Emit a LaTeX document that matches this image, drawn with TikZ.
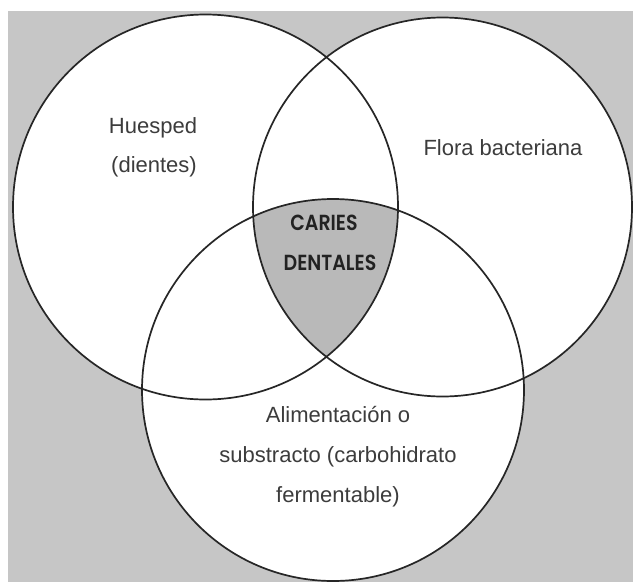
\documentclass[tikz,border=0pt]{standalone}
\usepackage{fontspec}
\usepackage{graphicx}
\setmainfont{Liberation Sans}
\newfontfamily\geofont{Poppins SemiBold}
\definecolor{bggray}{HTML}{C6C6C6}
\definecolor{centergray}{HTML}{B9B9B9}
\definecolor{inkline}{HTML}{262626}
\definecolor{inktext}{HTML}{3C3C3C}
\newcommand{\tallcaps}[1]{\scalebox{1}[1.15]{#1}}
\tikzset{
  ring/.style={draw=inkline, line width=1.7pt},
  lbl/.style={inner sep=0pt, anchor=base, text=inktext, font=\fontsize{22}{26}\selectfont},
  core/.style={inner sep=0pt, anchor=base, text=inkline!90!black, font=\geofont\fontsize{19}{22}\selectfont},
}
\begin{document}
\begin{tikzpicture}[x=1pt,y=-1pt]
\useasboundingbox (0,0) rectangle (633,582);
\fill[white] (0,0) rectangle (633,582);
\fill[bggray] (8,11) rectangle (633,582);
\coordinate (cl) at (205.5,207);
\coordinate (cr) at (442.5,207);
\coordinate (cb) at (333,390);
% white discs
\fill[white] (cl) circle[radius=192.5pt];
\fill[white] (cr) circle[radius=189.5pt];
\fill[white] (cb) circle[radius=191pt];
% triple intersection
\begin{scope}
  \clip (cl) circle[radius=192.5pt];
  \clip (cr) circle[radius=189.5pt];
  \fill[centergray] (cb) circle[radius=191pt];
\end{scope}
% outlines
\draw[ring] (cl) circle[radius=192.5pt];
\draw[ring] (cr) circle[radius=189.5pt];
\draw[ring] (cb) circle[radius=191pt];
% labels
\node[lbl] (hues1) at (153,133) {Huesped};
\node[lbl] (hues2) at (154,172) {(dientes)};
\node[lbl] (flora) at (503,155) {Flora bacteriana};
\node[core] (car1) at (324,230) {\tallcaps{CARIES}};
\node[core] (car2) at (330,270) {\tallcaps{DENTALES}};
\node[lbl] (ali1) at (338,422) {Alimentación o};
\node[lbl] (ali2) at (338,462) {substracto (carbohidrato};
\node[lbl] (ali3) at (338,502) {fermentable)};
\end{tikzpicture}
\end{document}
